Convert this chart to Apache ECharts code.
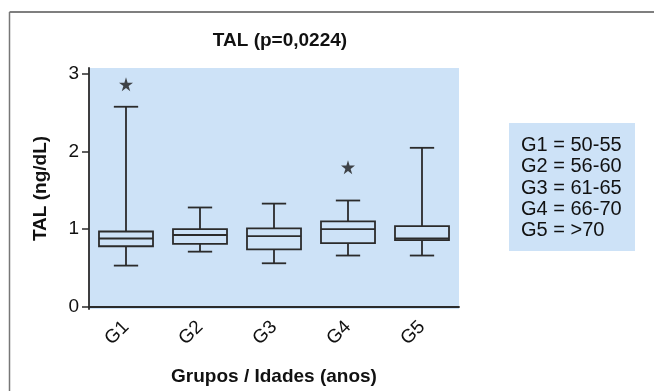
<!DOCTYPE html>
<html>
<head>
<meta charset="utf-8">
<script src="https://cdn.jsdelivr.net/npm/echarts@6/dist/echarts.min.js"></script>
<style>
html, body { margin: 0; padding: 0; background: #fff; }
#chart { width: 654px; height: 391px; }
</style>
</head>
<body>
<div id="chart"></div>
<script>
// dados
var categories = ['G1', 'G2', 'G3', 'G4', 'G5'];
var ageRanges = ['50-55', '56-60', '61-65', '66-70', '>70'];
var whiskerLow = [0.53, 0.71, 0.56, 0.66, 0.66];
var q1 = [0.78, 0.81, 0.74, 0.82, 0.86];
var median = [0.88, 0.925, 0.91, 1.0, 0.88];
var q3 = [0.97, 1.0, 1.01, 1.10, 1.04];
var whiskerHigh = [2.58, 1.28, 1.33, 1.37, 2.05];
var outlierGroup = ['G1', 'G4'];
var outlierValue = [2.87, 1.80];
var yTicks = [0, 1, 2, 3];

var FONT = '"Liberation Sans", Arial, sans-serif';
var BLUE = '#cde2f7';
var INK = '#2b2b2b';

var chart = echarts.init(document.getElementById('chart'));

var boxData = categories.map(function (c, i) {
    return [i, whiskerLow[i], q1[i], median[i], q3[i], whiskerHigh[i]];
});

function renderBox(params, api) {
    var idx = api.value(0);
    var band = api.size([1, 0])[0];
    var bw = band * 0.73;
    var cw = bw * 0.45;
    var pLow = api.coord([idx, api.value(1)]);
    var pQ1 = api.coord([idx, api.value(2)]);
    var pMed = api.coord([idx, api.value(3)]);
    var pQ3 = api.coord([idx, api.value(4)]);
    var pHigh = api.coord([idx, api.value(5)]);
    var cx = pMed[0];
    var st = { stroke: INK, lineWidth: 1.8, fill: null };
    return {
        type: 'group',
        children: [
            { type: 'line', shape: { x1: cx, y1: pHigh[1], x2: cx, y2: pQ3[1] }, style: st },
            { type: 'line', shape: { x1: cx, y1: pQ1[1], x2: cx, y2: pLow[1] }, style: st },
            { type: 'line', shape: { x1: cx - cw / 2, y1: pHigh[1], x2: cx + cw / 2, y2: pHigh[1] }, style: st },
            { type: 'line', shape: { x1: cx - cw / 2, y1: pLow[1], x2: cx + cw / 2, y2: pLow[1] }, style: st },
            { type: 'rect', shape: { x: cx - bw / 2, y: pQ3[1], width: bw, height: pQ1[1] - pQ3[1] }, style: st },
            { type: 'line', shape: { x1: cx - bw / 2, y1: pMed[1], x2: cx + bw / 2, y2: pMed[1] }, style: st }
        ]
    };
}

var legendText = categories.map(function (c, i) {
    return c + ' = ' + ageRanges[i];
}).join('\n');

var option = {
    animation: false,
    title: {
        text: 'TAL (p=0,0224)',
        left: 275,
        top: 26,
        textAlign: 'center',
        textStyle: { fontFamily: FONT, fontSize: 19, fontWeight: 'bold', color: '#111' }
    },
    grid: {
        left: 89, right: 195, top: 68, bottom: 76,
        show: true, backgroundColor: BLUE, borderWidth: 0
    },
    xAxis: {
        type: 'category',
        data: categories,
        name: 'Grupos / Idades (anos)',
        nameLocation: 'middle',
        nameGap: 58,
        nameTextStyle: { fontFamily: FONT, fontSize: 19, fontWeight: 'bold', color: '#111' },
        axisLine: { lineStyle: { color: INK, width: 1.8 } },
        axisTick: { alignWithLabel: true, length: 7, lineStyle: { color: INK, width: 1.5 } },
        axisLabel: { rotate: 45, margin: 15, fontFamily: FONT, fontSize: 19, color: '#111' },
        splitLine: { show: false }
    },
    yAxis: {
        type: 'value',
        min: -0.03,
        max: 3.08,
        name: 'TAL (ng/dL)',
        nameLocation: 'middle',
        nameGap: 39,
        nameTextStyle: { fontFamily: FONT, fontSize: 19, fontWeight: 'bold', color: '#111' },
        axisLine: { show: true, lineStyle: { color: INK, width: 1.8 } },
        axisTick: { show: true, length: 7, customValues: yTicks, lineStyle: { color: INK, width: 1.5 } },
        axisLabel: { customValues: yTicks, margin: 10, fontFamily: FONT, fontSize: 19, color: '#111' },
        splitLine: { show: false }
    },
    series: [
        {
            type: 'custom',
            renderItem: renderBox,
            data: boxData,
            encode: { x: 0, y: [1, 2, 3, 4, 5] },
            z: 3
        },
        {
            type: 'scatter',
            data: outlierGroup.map(function (g, i) { return [g, outlierValue[i]]; }),
            symbol: 'path://M50,0 L61,35 L98,35 L68,57 L79,91 L50,70 L21,91 L32,57 L2,35 L39,35 Z',
            symbolSize: 14,
            itemStyle: { color: '#1a1a1a' },
            z: 4
        }
    ],
    graphic: [
        { type: 'line', shape: { x1: 9.5, y1: 12, x2: 654, y2: 12 }, style: { stroke: '#555', lineWidth: 1.5 } },
        { type: 'line', shape: { x1: 9.5, y1: 12, x2: 9.5, y2: 391 }, style: { stroke: '#777', lineWidth: 1.5 } },
        { type: 'rect', shape: { x: 509, y: 123, width: 126, height: 128 }, style: { fill: BLUE } },
        {
            type: 'text', x: 521, y: 135,
            style: { text: legendText, fontFamily: FONT, fontSize: 20, lineHeight: 21.3, fill: '#111' }
        }
    ]
};

chart.setOption(option);
</script>
</body>
</html>
